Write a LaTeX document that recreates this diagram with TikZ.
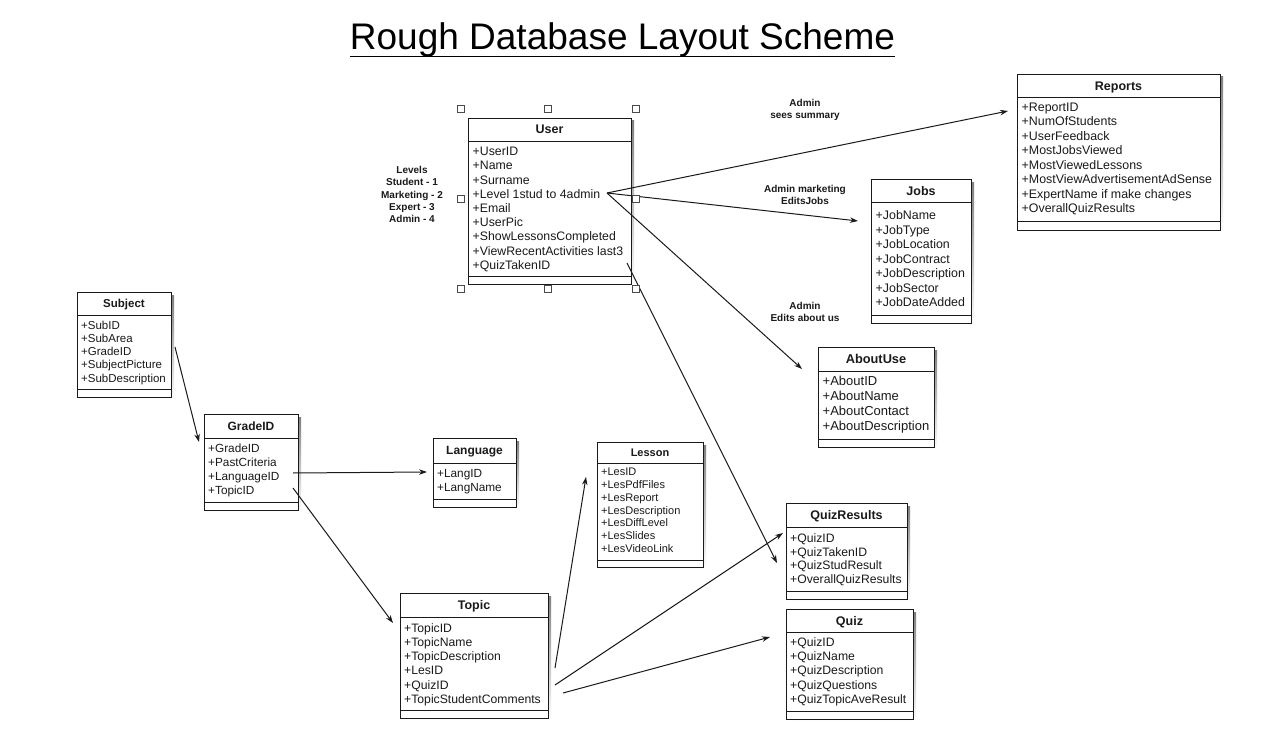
\documentclass[tikz,border=0pt]{standalone}
\usepackage{fontspec}
\setmainfont{Liberation Sans}
\usetikzlibrary{arrows.meta}
\definecolor{ink}{HTML}{1A1A1A}
\definecolor{shade}{HTML}{EBEBEB}
\definecolor{handlegray}{HTML}{4A4A4A}
\tikzset{
  boxline/.style={draw=ink, line width=0.9pt},
  ctitle/.style={font=\bfseries\fontsize{#1}{#1}\selectfont, text=ink, inner sep=0pt, anchor=base},
  cfield/.style={font=\fontsize{#1}{#1}\selectfont, text=ink, inner sep=0pt, anchor=base west},
  conn/.style={draw=ink, line width=1pt, -{Stealth[length=8pt,width=5.5pt]}},
  lbl/.style={font=\bfseries\fontsize{10}{12.2}\selectfont, align=center, text=ink, inner sep=0pt},
  handlebox/.style={draw=handlegray, fill=white, line width=0.8pt, minimum size=7.5pt, inner sep=0pt},
}
% #1 name, #2 x1, #3 y1, #4 x2, #5 header bottom, #6 separator, #7 y2, #8 title, #9 title size
\newcommand\classbox[9]{%
  \fill[shade] ({#2+3},{#3+3}) rectangle ({#4+3},{#7+3});
  \node[draw=ink, line width=0.9pt, fill=white, inner sep=0pt, outer sep=0pt, anchor=north west,
        minimum width={(#4-#2)*1pt}, minimum height={(#7-#3)*1pt}] (#1) at (#2,#3) {};
  \draw[boxline] (#2,#5) -- (#4,#5);
  \draw[boxline] (#2,#6) -- (#4,#6);
  \node[ctitle=#9] (#1-title) at ({(#2+#4)/2},{(#3+#5)/2+0.36*#9}) {#8};
}
% #1 name, #2 x, #3 first line centre, #4 line step, #5 size, #6 list
\newcommand\classfields[6]{%
  \foreach \f [count=\i] in {#6} {
    \node[cfield=#5] (#1-f\i) at (#2,{#3+(\i-1)*#4+0.36*#5}) {\f};
  }
}
\begin{document}
\begin{tikzpicture}[x=1pt,y=-1pt]
\useasboundingbox (0,0) rectangle (1280,733);
\fill[white] (0,0) rectangle (1280,733);

% title
\node[font=\fontsize{37}{37}\selectfont, text=black, inner sep=0pt, anchor=base] (title) at (622.5,50) {Rough Database Layout Scheme};
\draw[line width=1.5pt, black] ([yshift=-6.5pt]title.base west) -- ([yshift=-6.5pt]title.base east);

% classes
\classbox{user}{468}{118}{631}{141}{276}{284}{User}{12.5}
\classfields{user}{472.5}{151.3}{14.2}{12.3}{+UserID,+Name,+Surname,+Level 1stud to 4admin,+Email,+UserPic,+ShowLessonsCompleted,+ViewRecentActivities last3,+QuizTakenID}

\classbox{reports}{1017}{74}{1220}{97.5}{221.5}{230}{Reports}{12.5}
\classfields{reports}{1021.5}{106.7}{14.5}{12.4}{+ReportID,+NumOfStudents,+UserFeedback,+MostJobsViewed,+MostViewedLessons,+MostViewAdvertisementAdSense,+ExpertName if make changes,+OverallQuizResults}

\classbox{jobs}{871}{179}{971}{202}{315}{323}{Jobs}{12.5}
\classfields{jobs}{875.5}{215}{14.55}{12.4}{+JobName,+JobType,+JobLocation,+JobContract,+JobDescription,+JobSector,+JobDateAdded}

\classbox{about}{818}{347}{934}{371}{439}{447}{AboutUse}{12.8}
\classfields{about}{822.5}{381}{15}{13}{+AboutID,+AboutName,+AboutContact,+AboutDescription}

\classbox{subject}{77}{292}{171}{315}{389}{397}{Subject}{11.5}
\classfields{subject}{81}{325}{13.25}{11.5}{+SubID,+SubArea,+GradeID,+SubjectPicture,+SubDescription}

\classbox{grade}{204}{414}{298}{438}{502}{510}{GradeID}{12}
\classfields{grade}{208}{448}{14}{11.8}{+GradeID,+PastCriteria,+LanguageID,+TopicID}

\classbox{language}{433}{438}{516}{463}{499}{507}{Language}{12}
\classfields{language}{437}{473}{14.5}{11.8}{+LangID,+LangName}

\classbox{lesson}{597}{442}{703}{463}{560}{567}{Lesson}{11}
\classfields{lesson}{601}{472}{12.7}{11}{+LesID,+LesPdfFiles,+LesReport,+LesDescription,+LesDiffLevel,+LesSlides,+LesVideoLink}

\classbox{topic}{400}{593}{548}{617}{710}{718}{Topic}{12.5}
\classfields{topic}{404}{628}{14.2}{12.2}{+TopicID,+TopicName,+TopicDescription,+LesID,+QuizID,+TopicStudentComments}

\classbox{quizres}{786}{503}{907}{527}{591}{599}{QuizResults}{12.5}
\classfields{quizres}{790}{538}{13.7}{12.2}{+QuizID,+QuizTakenID,+QuizStudResult,+OverallQuizResults}

\classbox{quiz}{786}{609}{913}{632}{711}{719}{Quiz}{12.5}
\classfields{quiz}{790}{642}{14.25}{12.2}{+QuizID,+QuizName,+QuizDescription,+QuizQuestions,+QuizTopicAveResult}

% connector end points
\coordinate (uLevel) at (607,193);
\coordinate (uQuiz) at (627,263);
\coordinate (toReports) at (1008,111);
\coordinate (toJobs) at (858,221);
\coordinate (toAbout) at (802,369);
\coordinate (toQuizRes1) at (777,563);
\coordinate (sGrade) at (175,347);
\coordinate (toGrade) at (199,442);
\coordinate (gLang) at (293,473);
\coordinate (toLang) at (427,472);
\coordinate (gTopic) at (293,488);
\coordinate (toTopic) at (393,623);
\coordinate (tLes) at (555,668);
\coordinate (toLesson) at (586,477);
\coordinate (tQR) at (555,685);
\coordinate (toQuizRes2) at (783,533);
\coordinate (tQuiz) at (563,693);
\coordinate (toQuiz) at (770,637);

% connectors
\draw[conn] (uLevel) -- (toReports);
\draw[conn] (uLevel) -- (toJobs);
\draw[conn] (uLevel) -- (toAbout);
\draw[conn] (uQuiz) -- (toQuizRes1);
\draw[conn] (sGrade) -- (toGrade);
\draw[conn] (gLang) -- (toLang);
\draw[conn] (gTopic) -- (toTopic);
\draw[conn] (tLes) -- (toLesson);
\draw[conn] (tQR) -- (toQuizRes2);
\draw[conn] (tQuiz) -- (toQuiz);

% selection handles round User
\node[handlebox] (h1) at (461,109) {};
\node[handlebox] (h2) at (548,109) {};
\node[handlebox] (h3) at (636,109) {};
\node[handlebox] (h4) at (461,199) {};
\node[handlebox] (h5) at (636,199) {};
\node[handlebox] (h6) at (461,289) {};
\node[handlebox] (h7) at (548,289) {};
\node[handlebox] (h8) at (636,289) {};

% labels
\node[lbl] (levels) at (412,194.5) {Levels\\Student - 1\\Marketing - 2\\Expert - 3\\Admin - 4};
\node[lbl] (lblReports) at (805,110) {Admin\\sees summary};
\node[lbl, font=\bfseries\fontsize{10}{12.8}\selectfont] (lblJobs) at (805,195) {Admin marketing\\EditsJobs};
\node[lbl] (lblAbout) at (805,312) {Admin\\Edits about us};
\end{tikzpicture}
\end{document}
